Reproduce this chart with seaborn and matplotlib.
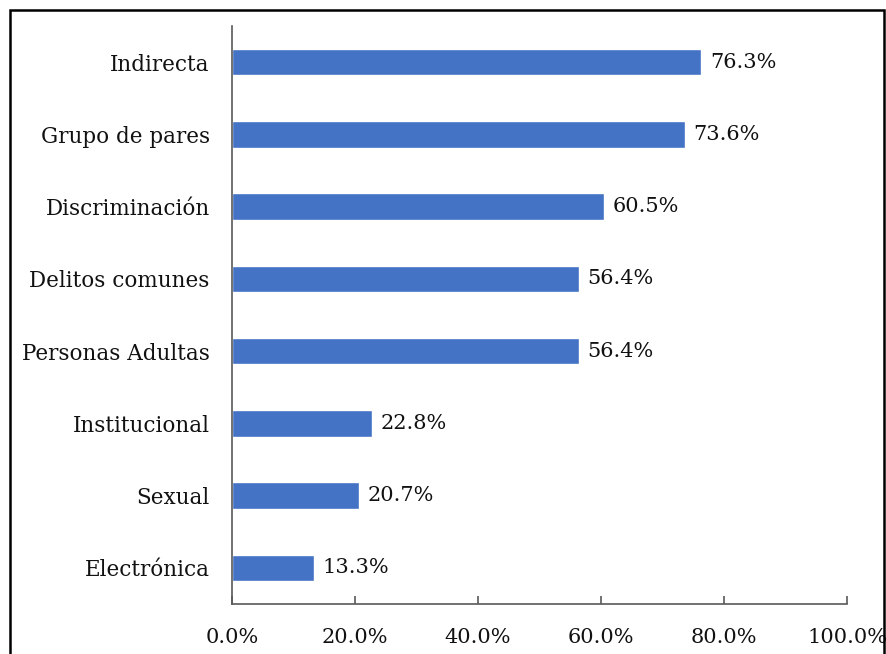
import matplotlib
matplotlib.use("Agg")
import matplotlib.pyplot as plt
import seaborn as sns
import pandas as pd
from matplotlib.patches import Rectangle
from matplotlib.ticker import FuncFormatter

categories = ["Indirecta", "Grupo de pares", "Discriminación", "Delitos comunes",
              "Personas Adultas", "Institucional", "Sexual", "Electrónica"]
values = [76.3, 73.6, 60.5, 56.4, 56.4, 22.8, 20.7, 13.3]

df = pd.DataFrame({"cat": categories, "val": values})

sns.set_theme(style="white")
plt.rcParams["font.family"] = ["DejaVu Serif"]

fig = plt.figure(figsize=(8.86, 6.54), dpi=100)
ax = fig.add_axes([232/886, 1-604/654, (847-232)/886, (604-26)/654])

sns.barplot(data=df, x="val", y="cat", orient="h", color="#4472C4",
            saturation=1, width=0.37, ax=ax)

ax.set_xlim(0, 100)
ax.set_ylim(7.5, -0.5)
ax.set_xticks([0, 20, 40, 60, 80, 100])
ax.xaxis.set_major_formatter(FuncFormatter(lambda v, p: f"{v:.1f}%"))
ax.set_xlabel("")
ax.set_ylabel("")

for s in ["top", "right"]:
    ax.spines[s].set_visible(False)
for s in ["left", "bottom"]:
    ax.spines[s].set_color("#595959")
    ax.spines[s].set_linewidth(1.2)

ax.tick_params(axis="x", direction="in", length=6, width=1.2, color="#595959",
               labelsize=15, pad=17, labelcolor="#111111", bottom=True)
ax.tick_params(axis="y", length=0, labelsize=15.5, pad=16, labelcolor="#111111")

for i, v in enumerate(values):
    ax.text(v + 1.4, i, f"{v:.1f}%", va="center", ha="left", fontsize=15, color="#111111")

fig.patches.append(Rectangle((10/886, -0.05), (884-10)/886, 1.05 - 10/654,
                             transform=fig.transFigure, fill=False,
                             edgecolor="black", linewidth=1.8))

fig.savefig("out.png", dpi=100)
